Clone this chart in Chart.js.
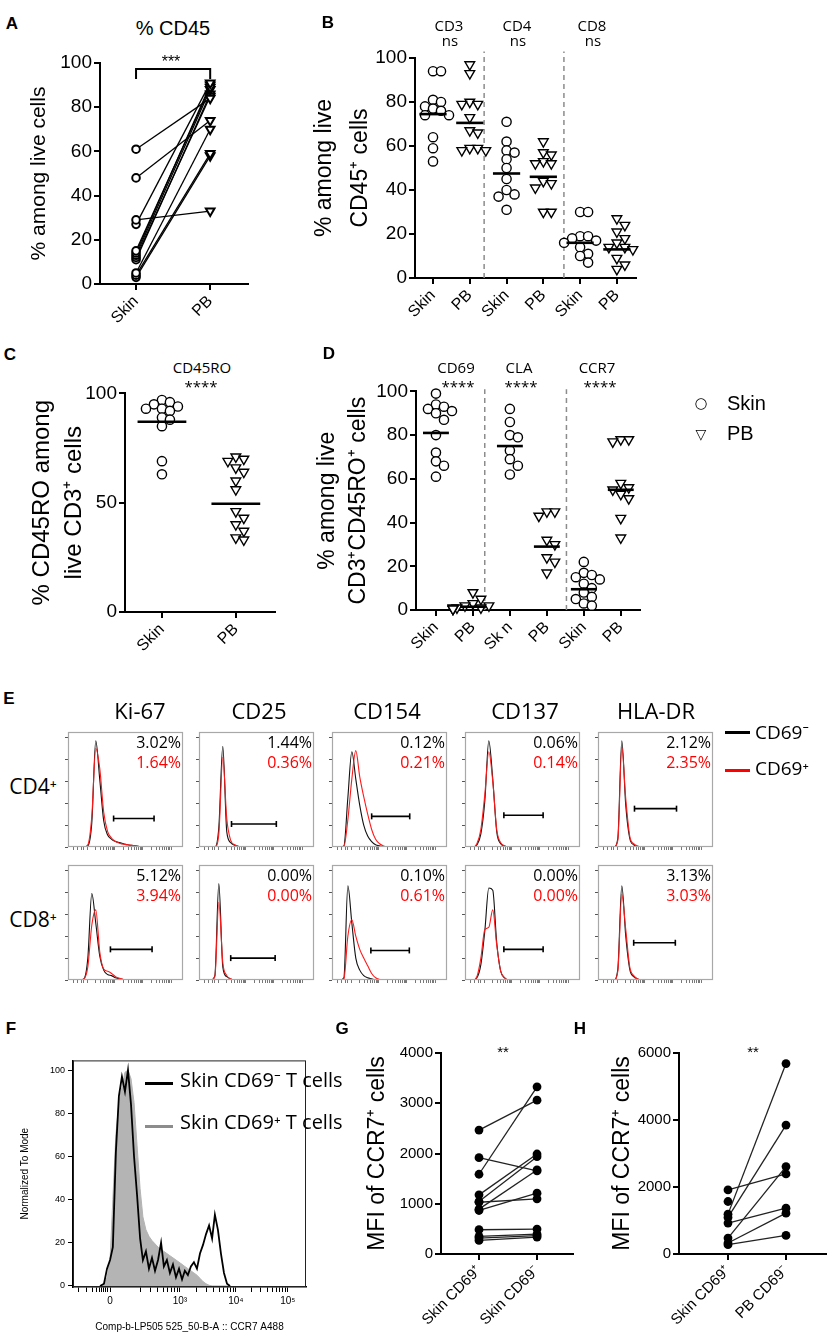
<!DOCTYPE html>
<html>
<head>
<meta charset="utf-8">
<script src="https://cdn.jsdelivr.net/npm/chart.js@4.4.1/dist/chart.umd.min.js"></script>
<style>
body { margin: 0; background: #fff; }
#fig { position: relative; width: 829px; height: 1334px; overflow: hidden; background: #fff; color: #000; }
#fig canvas { position: absolute; }
.t { position: absolute; white-space: nowrap; line-height: 1; }
.sw { position: absolute; }
</style>
</head>
<body>
<div id="fig"></div>
<script>
// ---------------- data ----------------

// A: % CD45 among live cells, paired skin / PB samples
const aCategories = ['Skin', 'PB'];
const aSkin = [61, 48, 29, 27, 15, 14, 13, 12, 11, 5, 4, 3];
const aPB   = [84, 74, 33, 91, 89, 90, 88, 85, 86, 70, 59, 58];
const aTicks = [0, 20, 40, 60, 80, 100];

// B: % among live CD45+ cells
const bCategories = ['Skin', 'PB', 'Skin', 'PB', 'Skin', 'PB'];
const bMarkers = ['CD3', 'CD4', 'CD8'];
const bStats = ['ns', 'ns', 'ns'];
const bCD3Skin = [94, 94, 81, 80, 78, 77, 76, 74, 74, 64, 59, 53];
const bCD3PB   = [97, 93, 80, 79, 79, 73, 67, 66, 59, 59, 58, 58];
const bCD4Skin = [71, 62, 58, 57, 54, 50, 45, 40, 38, 37, 31];
const bCD4PB   = [62, 57, 56, 53, 52, 52, 44, 43, 41, 30, 30];
const bCD8Skin = [30, 30, 19, 19, 18, 17, 16, 14, 11, 10, 7];
const bCD8PB   = [27, 24, 21, 18, 16, 14, 14, 13, 9, 6, 4];
const bMedians = [74.5, 70.5, 47.5, 46, 16, 13];
const bTicks = [0, 20, 40, 60, 80, 100];

// C: % CD45RO among live CD3+ cells
const cCategories = ['Skin', 'PB'];
const cSkin = [97, 96, 95, 94, 93, 93, 92, 89, 88, 85, 69, 63];
const cPB   = [71, 70, 69, 66, 64, 60, 56, 46, 43, 40, 37, 34, 33];
const cMedians = [87, 49.5];
const cTicks = [0, 50, 100];

// D: % among live CD3+CD45RO+ cells
const dCategories = ['Skin', 'PB', 'Sk n', 'PB', 'Skin', 'PB'];
const dMarkers = ['CD69', 'CLA', 'CCR7'];
const dStats = ['****', '****', '****'];
const dCD69Skin = [99, 94, 93, 92, 91, 90, 87, 80, 72, 68, 66, 61];
const dCD69PB   = [8, 5, 3, 2, 2, 1, 1, 1, 0.5, 0.5, 0.5];
const dCLASkin  = [92, 86, 80, 79, 73, 69, 66, 62];
const dCLAPB    = [45, 45, 43, 32, 30, 24, 22, 17];
const dCCR7Skin = [22, 17, 16, 15, 14, 12, 10, 8, 6, 5, 3, 2];
const dCCR7PB   = [78, 78, 77, 58, 56, 55, 53, 51, 42, 33];
const dMedians = [81, 1.5, 75, 29, 9.5, 55];
const dTicks = [0, 20, 40, 60, 80, 100];
const dLegend = ['Skin', 'PB'];

// E: activation marker histograms (normalised to mode), 30 bins
const eMarkers = ['Ki-67', 'CD25', 'CD154', 'CD137', 'HLA-DR'];
const eRows = ['CD4⁺', 'CD8⁺'];
const eLegend = ['CD69⁻', 'CD69⁺'];
const eBins = [0,1,2,3,4,5,6,7,8,9,10,11,12,13,14,15,16,17,18,19,20,21,22,23,24,25,26,27,28,29];
const e4Ki67Neg = [0,0,0,0,0,1,22,97,62,24,11,7,5,4,3,2,1.5,1,0.5,0,0,0,0,0,0,0,0,0,0,0];
const e4Ki67Pos = [0,0,0,0,0,2,28,90,72,32,14,8,5,3.5,2.5,2,1.5,1,0.5,0,0,0,0,0,0,0,0,0,0,0];
const e4CD25Neg = [0,0,0,0,0,18,92,14,4,1.5,0.5,0,0,0,0,0,0,0,0,0,0,0,0,0,0,0,0,0,0,0];
const e4CD25Pos = [0,0,0,0,0,12,82,26,6,2,0.5,0,0,0,0,0,0,0,0,0,0,0,0,0,0,0,0,0,0,0];
const e4CD154Neg = [0,0,0,1,45,87,62,38,20,10,5,2,1,0,0,0,0,0,0,0,0,0,0,0,0,0,0,0,0,0];
const e4CD154Pos = [0,0,0,0.5,25,62,88,64,46,30,16,7,3,1,0,0,0,0,0,0,0,0,0,0,0,0,0,0,0,0];
const e4CD137Neg = [0,0,0,2,12,42,97,62,14,3,1,0,0,0,0,0,0,0,0,0,0,0,0,0,0,0,0,0,0,0];
const e4CD137Pos = [0,0,0,3,16,48,87,60,16,4,1,0,0,0,0,0,0,0,0,0,0,0,0,0,0,0,0,0,0,0];
const e4HLANeg = [0,0,0,0,0,8,97,38,8,2,0.5,0,0,0,0,0,0,0,0,0,0,0,0,0,0,0,0,0,0,0];
const e4HLAPos = [0,0,0,0,0,6,91,44,10,3,1,0,0,0,0,0,0,0,0,0,0,0,0,0,0,0,0,0,0,0];
const e8Ki67Neg = [0,0,0,0,1,20,79,52,22,9,5,4,2,1,0.5,0,0,0,0,0,0,0,0,0,0,0,0,0,0,0];
const e8Ki67Pos = [0,0,0,0,1,12,50,64,26,10,8,6,3,1.5,0.5,0,0,0,0,0,0,0,0,0,0,0,0,0,0,0];
const e8CD25Neg = [0,0,0,0,4,88,12,3,1,0,0,0,0,0,0,0,0,0,0,0,0,0,0,0,0,0,0,0,0,0];
const e8CD25Pos = [0,0,0,0,3,71,16,4,1,0,0,0,0,0,0,0,0,0,0,0,0,0,0,0,0,0,0,0,0,0];
const e8CD154Neg = [0,0,0,2,86,52,20,9,4,2,1,0,0,0,0,0,0,0,0,0,0,0,0,0,0,0,0,0,0,0];
const e8CD154Pos = [0,0,0,1,40,55,40,28,20,13,6,2,0.5,0,0,0,0,0,0,0,0,0,0,0,0,0,0,0,0,0];
const e8CD137Neg = [0,0,0,2,14,45,84,82,34,8,2,0,0,0,0,0,0,0,0,0,0,0,0,0,0,0,0,0,0,0];
const e8CD137Pos = [0,0,0,3,20,46,48,64,32,8,2,0,0,0,0,0,0,0,0,0,0,0,0,0,0,0,0,0,0,0];
const e8HLANeg = [0,0,0,0,0,10,86,40,10,3,1,0,0,0,0,0,0,0,0,0,0,0,0,0,0,0,0,0,0,0];
const e8HLAPos = [0,0,0,0,0,8,78,46,12,4,1,0,0,0,0,0,0,0,0,0,0,0,0,0,0,0,0,0,0,0];
const ePctCD4Neg = ['3.02%', '1.44%', '0.12%', '0.06%', '2.12%'];
const ePctCD4Pos = ['1.64%', '0.36%', '0.21%', '0.14%', '2.35%'];
const ePctCD8Neg = ['5.12%', '0.00%', '0.10%', '0.00%', '3.13%'];
const ePctCD8Pos = ['3.94%', '0.00%', '0.61%', '0.00%', '3.03%'];
// positive gates: [from bin, to bin, height]
const eGateCD4 = [[11.5, 21.7, 26], [8.2, 19.5, 21], [10, 19.6, 28], [9.8, 19.7, 29], [9.2, 19.8, 35]];
const eGateCD8 = [[10.7, 21.2, 28], [8, 19.2, 20], [9.8, 19.5, 27], [9.8, 19.7, 28], [9, 19.5, 34]];

// F: CCR7 histogram, skin CD69- vs CD69+ T cells
const fLegend = ['Skin CD69⁻ T cells', 'Skin CD69⁺ T cells'];
const fChannel = [116,133,146,159,171,184,197,210,223,236,249,262,275,288,300,313,326,339,352,365,378,390,403,416,429,442,455,468,480,493,506,519,532,545,558,571,584,597,609,622,635,648,661,674];
const fCD69Neg = [0,1,8,12,18,62,88,97,90,100,84,60,42,22,12,16,8,13,7,12,20,9,12,6,10,4,8,3,7,5,9,11,8,15,19,24,28,22,33,26,15,6,1,0];
const fCD69Pos = [0,1,4,12,40,70,85,92,99,100,96,85,65,45,32,26,23,21,19.5,18,17,16,15,14,13,12,11,10,9,8,7,6,5,3.5,2,1,0.3,0,0,0,0,0,0,0];
const fTickLabels = ['0', '10³', '10⁴', '10⁵'];
const fYTicks = [0, 20, 40, 60, 80, 100];

// G / H: CCR7 MFI, paired
const gCategories = ['Skin CD69⁺', 'Skin CD69⁻'];
const gSkinPos = [2466, 1587, 1917, 1177, 1045, 1030, 893, 866, 483, 350, 317, 271];
const gSkinNeg = [3061, 3326, 1653, 1990, 1937, 1098, 1673, 1210, 496, 397, 364, 337];
const gTicks = [0, 1000, 2000, 3000, 4000];
const hCategories = ['Skin CD69⁺', 'PB CD69⁻'];
const hSkinPos = [1914, 1190, 1091, 922, 476, 327, 278, 1567];
const hPBNeg   = [2391, 5684, 3849, 1369, 2609, 1220, 555, null];
const hTicks = [0, 2000, 4000, 6000];

// ---------------- setup ----------------
const ARIAL = '"Liberation Sans", Arial, sans-serif';
const CAL = '"Open Sans", "Noto Sans", sans-serif';
const fig = document.getElementById('fig');

Chart.defaults.animation = false;
Chart.defaults.responsive = false;
Chart.defaults.plugins.legend.display = false;
Chart.defaults.plugins.tooltip.enabled = false;
Chart.defaults.layout.autoPadding = false;
Chart.defaults.font.family = ARIAL;
Chart.defaults.color = '#000';

// box = plot area (l,t,r,b) + room around it for axes
function canvasFor(box) {
  const c = document.createElement('canvas');
  c.width = box.r - box.l + box.left + box.right;
  c.height = box.b - box.t + box.top + box.bottom;
  c.style.left = (box.l - box.left) + 'px';
  c.style.top = (box.t - box.top) + 'px';
  fig.appendChild(c);
  return c;
}

function label(str, x, y, size, opt = {}) {
  const d = document.createElement('div');
  d.className = 't';
  d.textContent = str;
  d.style.fontSize = size + 'px';
  d.style.fontFamily = opt.family || ARIAL;
  if (opt.bold) d.style.fontWeight = 'bold';
  if (opt.color) d.style.color = opt.color;
  const tx = opt.align === 'left' ? '0' : opt.align === 'right' ? '-100%' : '-50%';
  d.style.left = x + 'px';
  d.style.top = y + 'px';
  d.style.transform = 'translate(' + tx + ', -50%)';
  fig.appendChild(d);
}

function swatch(x, y, w, h, color) {
  const d = document.createElement('div');
  d.className = 'sw';
  Object.assign(d.style, {left: x + 'px', top: y + 'px', width: w + 'px', height: h + 'px', background: color});
  fig.appendChild(d);
}

const prismGrid = {display: true, drawOnChartArea: false, drawTicks: true, tickLength: 6, color: '#000', lineWidth: 2};
const prismBorder = {display: true, color: '#000', width: 2};

function yAxis(box, max, ticks, title, tickSize, titleSize, lh) {
  return {
    type: 'linear', position: 'left', min: 0, max: max, bounds: 'data',
    afterBuildTicks: s => { s.ticks = ticks.map(v => ({value: v})); },
    afterFit: s => { s.width = box.left; },
    border: prismBorder, grid: prismGrid,
    ticks: {color: '#000', font: {family: ARIAL, size: tickSize}, padding: 2, callback: v => String(v)},
    title: {display: true, text: title, color: '#000', padding: 0, font: {family: ARIAL, size: titleSize, lineHeight: lh}}
  };
}

function xAxis(box, min, max, labels, size) {
  return {
    type: 'linear', position: 'bottom', min: min, max: max, bounds: 'data',
    afterBuildTicks: s => { s.ticks = labels.map((_, i) => ({value: i})); },
    afterFit: s => { s.height = box.bottom; },
    border: prismBorder, grid: prismGrid,
    ticks: {color: '#000', font: {family: ARIAL, size: size}, autoSkip: false, minRotation: 45, maxRotation: 45, padding: 2,
            callback: (v, i) => labels[i]}
  };
}

// beeswarm: push a dot sideways (in half-diameter steps) until it clears the dots already placed
function swarm(values, center, pxX, pxY, diam) {
  const placed = [];
  const out = new Array(values.length);
  const offs = [0, 1, -1, 2, -2, 3, -3, 4, -4, 5, -5].map(k => k * diam * 0.5);
  values.map((v, i) => ({v, i})).sort((a, b) => b.v - a.v).forEach(p => {
    let best = offs[offs.length - 1];
    for (const o of offs) {
      if (placed.every(q => Math.hypot(q.o - o, (q.v - p.v) * pxY) >= diam)) { best = o; break; }
    }
    placed.push({v: p.v, o: best});
    out[p.i] = {x: center + best / pxX, y: p.v};
  });
  return out;
}

function dots(points, tri) {
  return {
    data: points, order: 1, clip: false,
    pointStyle: tri ? 'triangle' : 'circle', pointRotation: tri ? 180 : 0,
    pointRadius: tri ? 5.6 : 4.6, pointBorderWidth: 1.4,
    pointBorderColor: '#000', pointBackgroundColor: '#fff'
  };
}

function medianLine(center, m, half) {
  return {data: [{x: center - half, y: m}, {x: center + half, y: m}], showLine: true,
          borderColor: '#000', borderWidth: 2.6, pointRadius: 0, order: 0, clip: false};
}

function separator(x, top) {
  return {data: [{x: x, y: 0}, {x: x, y: top}], showLine: true, borderColor: '#8c8c8c', borderWidth: 1.5,
          borderDash: [5, 4], pointRadius: 0, order: 2, clip: false};
}

const framePlugin = {
  id: 'frame',
  afterDraw(chart, args, opts) {
    const a = chart.chartArea, ctx = chart.ctx;
    ctx.save();
    ctx.strokeStyle = opts.color;
    ctx.lineWidth = opts.width;
    ctx.strokeRect(a.left + 0.5, a.top + 0.5, a.width - 1, a.height - 1);
    ctx.restore();
  }
};

// ---------------- A ----------------
{
  const box = {l: 100, t: 63, r: 248, b: 284, left: 73, top: 14, right: 4, bottom: 46};
  const pairs = aSkin.map((s, i) => ({
    data: [{x: 0, y: s}, {x: 1, y: aPB[i]}], showLine: true, clip: false,
    borderColor: '#000', borderWidth: 1.3,
    pointStyle: ['circle', 'triangle'], pointRotation: [0, 180], pointRadius: [3.8, 5],
    pointBorderWidth: 2, pointBorderColor: '#000', pointBackgroundColor: '#fff'
  }));
  pairs.push({data: [{x: 0, y: 92.8}, {x: 0, y: 97.3}, {x: 1, y: 97.3}, {x: 1, y: 92.8}],
              showLine: true, borderColor: '#000', borderWidth: 2, pointRadius: 0, clip: false});
  new Chart(canvasFor(box), {
    type: 'scatter',
    data: {datasets: pairs},
    options: {
      layout: {padding: {top: box.top, right: box.right, left: 0, bottom: 0}},
      scales: {x: xAxis(box, -0.486, 1.51, aCategories, 16), y: yAxis(box, 100, aTicks, '% among live cells', 19, 21, 1.2)}
    }
  });
  label('A', 12, 23, 17, {bold: true});
  label('% CD45', 173, 28, 20);
  label('***', 171, 62, 16);
}

// ---------------- B ----------------
{
  const box = {l: 415, t: 58, r: 636, b: 278, left: 108, top: 14, right: 4, bottom: 48};
  const groups = [bCD3Skin, bCD3PB, bCD4Skin, bCD4PB, bCD8Skin, bCD8PB];
  const sets = [];
  groups.forEach((g, i) => {
    sets.push(dots(swarm(g, i, 36.8, 2.2, 8), i % 2 === 1));
    sets.push(medianLine(i, bMedians[i], 0.37));
  });
  [1.39, 3.56].forEach(s => sets.push(separator(s, 103)));
  new Chart(canvasFor(box), {
    type: 'scatter',
    data: {datasets: sets},
    options: {
      layout: {padding: {top: box.top, right: box.right, left: 0, bottom: 0}},
      scales: {x: xAxis(box, -0.49, 5.52, bCategories, 16),
               y: yAxis(box, 100, bTicks, ['% among live', 'CD45⁺ cells'], 19, 23, 1.55)}
    }
  });
  label('B', 328, 22, 17, {bold: true});
  [449, 517, 592].forEach((x, i) => {
    label(bMarkers[i], x, 25, 15, {family: CAL});
    label(bStats[i], x + 1, 40, 15, {family: CAL});
  });
}

// ---------------- C ----------------
{
  const box = {l: 125, t: 392, r: 275, b: 612, left: 99, top: 12, right: 4, bottom: 50};
  const sets = [
    dots(swarm(cSkin, 0, 74, 2.2, 8), false), medianLine(0, cMedians[0], 0.33),
    dots(swarm(cPB, 1, 74, 2.2, 8), true), medianLine(1, cMedians[1], 0.33)
  ];
  new Chart(canvasFor(box), {
    type: 'scatter',
    data: {datasets: sets},
    options: {
      layout: {padding: {top: box.top, right: box.right, left: 0, bottom: 0}},
      scales: {x: xAxis(box, -0.5, 1.53, cCategories, 16),
               y: yAxis(box, 100, cTicks, ['% CD45RO among', 'live CD3⁺ cells'], 19, 24, 1.33)}
    }
  });
  label('C', 10, 354, 17, {bold: true});
  label('CD45RO', 202, 367, 15, {family: CAL});
  label('****', 201, 386, 15, {family: CAL});
}

// ---------------- D ----------------
{
  const box = {l: 416, t: 390, r: 640, b: 610, left: 104, top: 12, right: 4, bottom: 52};
  const groups = [dCD69Skin, dCD69PB, dCLASkin, dCLAPB, dCCR7Skin, dCCR7PB];
  const sets = [];
  groups.forEach((g, i) => {
    sets.push(dots(swarm(g, i, 37, 2.2, 8), i % 2 === 1));
    sets.push(medianLine(i, dMedians[i], 0.35));
  });
  [1.32, 3.53].forEach(s => sets.push(separator(s, 101)));
  new Chart(canvasFor(box), {
    type: 'scatter',
    data: {datasets: sets},
    options: {
      layout: {padding: {top: box.top, right: box.right, left: 0, bottom: 0}},
      scales: {x: xAxis(box, -0.54, 5.52, dCategories, 16),
               y: yAxis(box, 100, dTicks, ['% among live', 'CD3⁺CD45RO⁺ cells'], 19, 23, 1.36)}
    }
  });
  label('D', 329, 353, 17, {bold: true});
  [[456, 458], [519, 521], [597, 600]].forEach((p, i) => {
    label(dMarkers[i], p[0], 367, 15, {family: CAL});
    label(dStats[i], p[1], 386, 15, {family: CAL});
  });
  label('○', 701, 403, 15, {family: '"DejaVu Sans", sans-serif'});
  label(dLegend[0], 727, 403, 20, {align: 'left'});
  label('▽', 701, 434, 14, {family: '"DejaVu Sans", sans-serif'});
  label(dLegend[1], 727, 433, 20, {align: 'left'});
}

// ---------------- E ----------------
{
  const frameX = [68, 199, 332, 465, 598];
  const rowTop = [732, 865];
  const titleX = [140, 259, 387, 525, 656];
  const curves = [
    [[e4Ki67Neg, e4Ki67Pos], [e4CD25Neg, e4CD25Pos], [e4CD154Neg, e4CD154Pos], [e4CD137Neg, e4CD137Pos], [e4HLANeg, e4HLAPos]],
    [[e8Ki67Neg, e8Ki67Pos], [e8CD25Neg, e8CD25Pos], [e8CD154Neg, e8CD154Pos], [e8CD137Neg, e8CD137Pos], [e8HLANeg, e8HLAPos]]
  ];
  const gates = [eGateCD4, eGateCD8];
  const pcts = [[ePctCD4Neg, ePctCD4Pos], [ePctCD8Neg, ePctCD8Pos]];
  // log-like minor ticks along the bottom of each histogram
  const xTicks = [1.5, 2.5, 3.3, 4];
  [4.8, 11.8, 18.9, 26].forEach((d, j) => {
    xTicks.push(d);
    if (j < 3) for (let k = 2; k <= 9; k++) xTicks.push(d + Math.log10(k) * 7.1);
  });
  const toPts = arr => eBins.map((b, i) => ({x: b, y: arr[i]}));

  for (let r = 0; r < 2; r++) {
    for (let m = 0; m < 5; m++) {
      const box = {l: frameX[m], t: rowTop[r], r: frameX[m] + 115, b: rowTop[r] + 115, left: 5, top: 1, right: 1, bottom: 5};
      const g = gates[r][m];
      new Chart(canvasFor(box), {
        type: 'scatter',
        plugins: [framePlugin],
        data: {datasets: [
          {data: [{x: g[0], y: g[2]}, {x: g[1], y: g[2]}], showLine: true, borderColor: '#000', borderWidth: 1.6,
           pointStyle: 'line', pointRotation: 90, pointRadius: 3, pointBorderWidth: 1.6, pointBorderColor: '#000', order: 0},
          {data: toPts(curves[r][m][1]), showLine: true, borderColor: '#ff1a1a', borderWidth: 1.1, pointRadius: 0,
           cubicInterpolationMode: 'monotone', order: 1},
          {data: toPts(curves[r][m][0]), showLine: true, borderColor: '#111', borderWidth: 1.1, pointRadius: 0,
           cubicInterpolationMode: 'monotone', order: 2}
        ]},
        options: {
          layout: {padding: {top: box.top, right: box.right, left: 0, bottom: 0}},
          plugins: {frame: {color: '#a8a8a8', width: 1.2}},
          scales: {
            x: {type: 'linear', min: 0, max: 29, bounds: 'data',
                afterBuildTicks: s => { s.ticks = xTicks.map(v => ({value: v})); },
                afterFit: s => { s.height = box.bottom; },
                border: {display: false},
                grid: {drawOnChartArea: false, drawTicks: true, tickLength: 3, color: '#555', lineWidth: 0.8},
                ticks: {display: false}},
            y: {type: 'linear', min: 0, max: 105, bounds: 'data',
                afterBuildTicks: s => { s.ticks = [0, 20, 40, 60, 80, 100].map(v => ({value: v})); },
                afterFit: s => { s.width = box.left; },
                border: {display: false},
                grid: {drawOnChartArea: false, drawTicks: true, tickLength: 3, color: '#555', lineWidth: 1},
                ticks: {display: false}}
          }
        }
      });
      label(pcts[r][0][m], frameX[m] + 113, rowTop[r] + 10, 16, {family: CAL, align: 'right'});
      label(pcts[r][1][m], frameX[m] + 113, rowTop[r] + 30, 16, {family: CAL, align: 'right', color: '#ff0000'});
    }
    label(eRows[r], 33, rowTop[r] + 54, 21, {family: CAL});
  }
  label('E', 9, 698, 17, {bold: true});
  eMarkers.forEach((t, i) => label(t, titleX[i], 710, 22, {family: CAL}));
  swatch(725, 730.5, 25, 3.5, '#000');
  label(eLegend[0], 755, 732, 19, {family: CAL, align: 'left'});
  swatch(725, 768.5, 25, 3.5, '#ff0000');
  label(eLegend[1], 755, 768, 19, {family: CAL, align: 'left'});
}

// ---------------- F ----------------
{
  const box = {l: 73, t: 1056, r: 306, b: 1287, left: 54, top: 4, right: 4, bottom: 47};
  const major = [159, 459, 699, 922];
  const minor = [25, 60, 85, 100, 112, 122, 131, 139, 146];
  [[219, 240], [459, 240], [699, 223]].forEach(([d, span]) => {
    for (let k = 2; k <= 9; k++) minor.push(d + Math.log10(k) * span);
  });
  const xt = major.concat(minor);
  new Chart(canvasFor(box), {
    type: 'scatter',
    plugins: [framePlugin],
    data: {datasets: [
      {data: fChannel.map((c, i) => ({x: c, y: fCD69Neg[i]})), showLine: true, borderColor: '#000', borderWidth: 1.8,
       pointRadius: 0, order: 0},
      {data: fChannel.map((c, i) => ({x: c, y: fCD69Pos[i]})), showLine: true, borderColor: '#b4b4b4', borderWidth: 1,
       backgroundColor: '#b4b4b4', fill: 'origin', pointRadius: 0, order: 1}
    ]},
    options: {
      layout: {padding: {top: box.top, right: box.right, left: 0, bottom: 0}},
      plugins: {frame: {color: '#222', width: 1}},
      scales: {
        x: {type: 'linear', min: 0, max: 1000, bounds: 'data',
            afterBuildTicks: s => { s.ticks = xt.map(v => ({value: v})); },
            afterFit: s => { s.height = box.bottom; },
            border: {display: true, color: '#000', width: 1.5},
            grid: {drawOnChartArea: false, drawTicks: true, tickLength: 5, color: '#000', lineWidth: 1},
            ticks: {color: '#000', font: {family: ARIAL, size: 10}, autoSkip: false, maxRotation: 0, padding: 3,
                    callback: (v, i) => i < major.length ? fTickLabels[i] : ''},
            title: {display: true, text: 'Comp-b-LP505 525_50-B-A :: CCR7 A488', color: '#000',
                    padding: {top: 0, bottom: 1}, font: {family: ARIAL, size: 10}}},
        y: {type: 'linear', min: -0.5, max: 104.5, bounds: 'data',
            afterBuildTicks: s => { s.ticks = fYTicks.map(v => ({value: v})); },
            afterFit: s => { s.width = box.left; },
            border: {display: true, color: '#000', width: 1.5},
            grid: {drawOnChartArea: false, drawTicks: true, tickLength: 5, color: '#000', lineWidth: 1},
            ticks: {color: '#000', font: {family: ARIAL, size: 9}, padding: 3},
            title: {display: true, text: 'Normalized To Mode', color: '#000', padding: 0, font: {family: ARIAL, size: 10}}}
      }
    }
  });
  label('F', 11, 1028, 17, {bold: true});
  swatch(145, 1081.5, 28, 3.5, '#000');
  label(fLegend[0], 180, 1080, 20, {family: CAL, align: 'left'});
  swatch(145, 1124.5, 28, 3.5, '#8c8c8c');
  label(fLegend[1], 180, 1122, 20, {family: CAL, align: 'left'});
}

// ---------------- G / H ----------------
function pairedMFI(box, xmin, xmax, cats, left, right, ticks, max) {
  const sets = left.map((v, i) => ({
    data: [{x: 0, y: v}, {x: 1, y: right[i]}], showLine: true, clip: false,
    borderColor: '#222', borderWidth: 1.3,
    pointStyle: 'circle', pointRadius: 4.4, pointBorderWidth: 0, pointBackgroundColor: '#000'
  }));
  new Chart(canvasFor(box), {
    type: 'scatter',
    data: {datasets: sets},
    options: {
      layout: {padding: {top: box.top, right: box.right, left: 0, bottom: 0}},
      scales: {x: xAxis(box, xmin, xmax, cats, 15), y: yAxis(box, max, ticks, 'MFI of CCR7⁺ cells', 15, 23, 1.2)}
    }
  });
}
pairedMFI({l: 441, t: 1053, r: 573, b: 1254, left: 77, top: 12, right: 6, bottom: 80},
          -0.655, 1.62, gCategories, gSkinPos, gSkinNeg, gTicks, 4000);
pairedMFI({l: 679, t: 1053, r: 826, b: 1254, left: 70, top: 12, right: 3, bottom: 80},
          -0.845, 1.69, hCategories, hSkinPos, hPBNeg, hTicks, 6000);
label('G', 342, 1028, 17, {bold: true});
label('**', 503, 1051, 15);
label('H', 580, 1028, 17, {bold: true});
label('**', 753, 1051, 15);
</script>
</body>
</html>
